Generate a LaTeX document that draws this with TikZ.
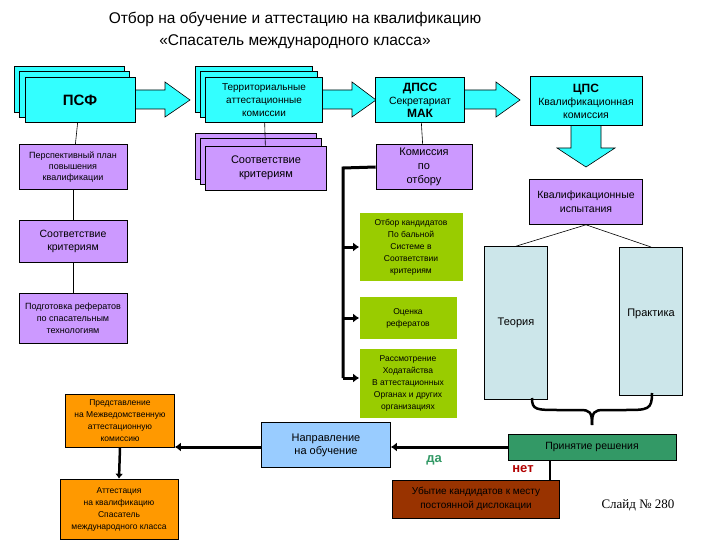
\documentclass[tikz,border=0pt]{standalone}
\usepackage{fontspec}
\setmainfont{Liberation Sans}
\newfontfamily\serifslide{Liberation Serif}
\usetikzlibrary{arrows.meta}
\begin{document}
\begin{tikzpicture}[x=1pt,y=-1pt]
\useasboundingbox (0,0) rectangle (720,540);
\definecolor{pur}{HTML}{CC99FF}
\definecolor{cyn}{HTML}{33FFFF}
\definecolor{grn}{HTML}{99CC00}
\definecolor{org}{HTML}{FF9900}
\definecolor{lbl}{HTML}{99CCFF}
\definecolor{tea}{HTML}{339966}
\definecolor{brn}{HTML}{993300}
\definecolor{pal}{HTML}{CCE6EA}
\tikzset{
  bx/.style={draw=black,line width=0.6pt,inner sep=1pt,align=center,font=\fontsize{10}{12}\selectfont},
  cy/.style={bx,fill=cyn},pu/.style={bx,fill=pur},
  gr/.style={bx,draw=none,fill=grn,font=\fontsize{8.5}{12}\selectfont},
  org/.style={bx,fill=org,font=\fontsize{8.5}{12}\selectfont},
  barrow/.style={draw=black,line width=0.6pt,fill=cyn},
  conn/.style={line width=0.6pt},
  thick arr/.style={line width=3pt,-{Latex[length=6pt,width=9pt]}}}
\node[align=center,font=\fontsize{15.5}{22}\selectfont] (title) at (295,30) {Отбор на обучение и аттестацию  на квалификацию\\«Спасатель  международного класса»};
% block arrows
\draw[barrow] (130,90) -- (165,90) -- (165,82) -- (190,100) -- (165,117) -- (165,109) -- (130,109) -- cycle;
\draw[barrow] (320,90) -- (352,90) -- (352,82) -- (376,100) -- (352,117) -- (352,109) -- (320,109) -- cycle;
\draw[barrow] (462,90) -- (496,90) -- (496,82) -- (520,100) -- (496,117) -- (496,109) -- (462,109) -- cycle;
\draw[barrow] (571,124) -- (601,124) -- (601,148) -- (615,148) -- (586,167) -- (557,148) -- (571,148) -- cycle;
% stacks
\foreach \d in {0,5}{\draw[fill=cyn,line width=0.6pt] (14+\d,66+\d) rectangle (124+\d,112+\d);}
\node[cy,minimum width=110pt,minimum height=45pt,font=\bfseries\fontsize{15}{17}\selectfont] (psf) at (80,100) {ПСФ};
\foreach \d in {0,5}{\draw[fill=cyn,line width=0.6pt] (195+\d,66+\d) rectangle (312+\d,112+\d);}
\node[cy,minimum width=117pt,minimum height=45pt,font=\fontsize{10}{13}\selectfont] (terr) at (264,100) {Территориальные\\аттестационные\\комиссии};
\foreach \d in {0,5}{\draw[fill=pur,line width=0.6pt] (195+\d,133+\d) rectangle (316+\d,179+\d);}
\node[pu,minimum width=121pt,minimum height=44pt,font=\fontsize{11}{14}\selectfont] (sootv2) at (266,168) {Соответствие\\критериям};
\node[cy,minimum width=89pt,minimum height=45pt,font=\fontsize{10.5}{13}\selectfont] (dpss) at (420,100) {{\bfseries\fontsize{12}{13}\selectfont ДПСС}\\Секретариат\\{\bfseries\fontsize{12}{13}\selectfont МАК}};
\node[cy,minimum width=112pt,minimum height=49pt,font=\fontsize{10.5}{13}\selectfont] (cps) at (586,101) {{\bfseries\fontsize{12}{13}\selectfont ЦПС}\\Квалификационная\\комиссия};
% left column
\node[pu,minimum width=108pt,minimum height=45pt,font=\fontsize{9}{11}\selectfont] (plan) at (73,167) {Перспективный план\\повышения\\квалификации};
\node[pu,minimum width=108pt,minimum height=42pt,font=\fontsize{10.5}{13}\selectfont] (sootv1) at (73,241) {Соответствие\\критериям};
\node[pu,minimum width=108pt,minimum height=50pt,font=\fontsize{9}{12}\selectfont] (podg) at (73,318) {Подготовка рефератов\\по спасательным\\технологиям};
\draw[conn] (psf) -- (plan); \draw[conn] (plan) -- (sootv1); \draw[conn] (sootv1) -- (podg);
\draw[conn] (terr) -- (sootv2);
\node[pu,minimum width=96pt,minimum height=45pt,font=\fontsize{11}{14}\selectfont] (kom) at (424,167) {Комиссия\\по\\отбору};
\draw[conn] (dpss) -- (kom);
\node[pu,minimum width=113pt,minimum height=45pt,font=\fontsize{10.5}{14}\selectfont] (kisp) at (586,202) {Квалификационные\\испытания};
% green
\node[gr,minimum width=103pt,minimum height=68pt] (otbor) at (411,247) {Отбор кандидатов\\По бальной\\Системе в\\Соответствии\\критериям};
\node[gr,minimum width=97pt,minimum height=42pt] (ocen) at (408,318) {Оценка\\рефератов};
\node[gr,minimum width=97pt,minimum height=69pt] (rass) at (408,383) {Рассмотрение\\Ходатайства\\В аттестационных\\Органах и других\\организациях};
\coordinate (c1) at (343,168); \coordinate (c2) at (343,378);
\draw[line width=3pt] (kom.west) -- (c1) -- (c2);
\foreach \t/\y in {otbor/247,ocen/318,rass/378}{\draw[line width=3pt,-{Latex[length=6pt,width=9pt]}] (343,\y) -- (\t.west|-0,\y);}
% theory
\node[bx,fill=pal,minimum width=63pt,minimum height=153pt,font=\fontsize{11}{13}\selectfont] (teor) at (516,323) {Теория};
\node[bx,fill=pal,minimum width=63pt,minimum height=148pt,anchor=north] (prak) at (651,247) {};
\node[font=\fontsize{11}{13}\selectfont] (praklbl) at (651,314) {Практика};
\draw[conn] (kisp.south) -- (teor.north); \draw[conn] (kisp.south) -- (prak.north);
\draw[line width=2.5pt] (532,398) .. controls (532,410) and (536,410) .. (560,410) -- (580,410) .. controls (590,410) and (592,412) .. (592,425);
\draw[line width=2.5pt] (652,393) .. controls (652,410) and (648,410) .. (624,410) -- (604,410) .. controls (594,410) and (592,412) .. (592,425);
% bottom
\node[bx,fill=tea,minimum width=168pt,minimum height=26pt,font=\fontsize{10.5}{12}\selectfont] (prin) at (592,447) {Принятие решения};
\node[bx,fill=lbl,minimum width=129pt,minimum height=45pt,font=\fontsize{11}{13}\selectfont] (napr) at (326,445) {Направление\\на  обучение};
\node[org,minimum width=109pt,minimum height=53pt] (pred) at (120,421) {Представление\\на Межведомственную\\аттестационную\\комиссию};
\node[org,minimum width=118pt,minimum height=60pt] (att) at (119,509) {Аттестация\\на квалификацию\\Спасатель\\международного класса};
\node[bx,fill=brn,minimum width=167pt,minimum height=38pt,font=\fontsize{10}{14}\selectfont] (ubyt) at (476,499) {Убытие кандидатов к месту\\постоянной дислокации};
\draw[thick arr] (prin.west) -- (napr.east|-prin.west);
\draw[thick arr] (napr.west|-prin.west) -- (pred.east|-prin.west);
\draw[line width=2.5pt,-{Latex[length=5pt,width=8pt]}] (pred.south) -- (att.north);
\draw[line width=2pt] (550,460) -- (550,480);
\node[text=tea,font=\bfseries\fontsize{13}{15}\selectfont] (da) at (434,460) {да};
\node[text=red!70!black,font=\bfseries\fontsize{13}{15}\selectfont] (net) at (523,469) {нет};
\node[font=\serifslide\fontsize{13}{15}\selectfont] (slide) at (638,505) {Слайд № 280};
\end{tikzpicture}
\end{document}
